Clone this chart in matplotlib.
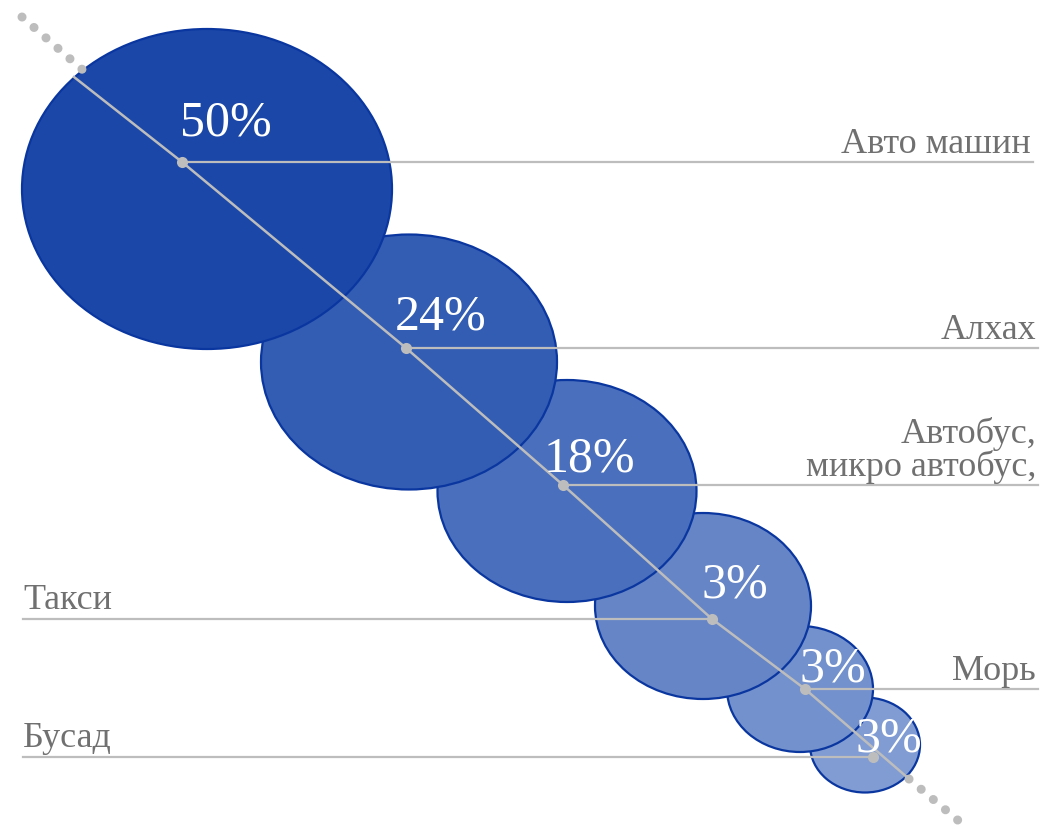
import matplotlib.pyplot as plt
from matplotlib.patches import Ellipse

# data
labels = ["Авто машин", "Алхах", "Автобус,\nмикро автобус,", "Такси", "Морь", "Бусад"]
values = [50, 24, 18, 3, 3, 3]

# layout (pixel space, y downwards)
centers = [(207, 189), (409, 362), (567, 491), (703, 606), (800, 689), (865, 745)]
sizes = [(370, 320), (296, 255), (259, 222), (216, 186), (146, 126), (110, 95)]
fills = ['#1b48a8', '#335db3', '#4a6fbc', '#6685c6', '#7391cc', '#809cd3']
anchors = [(182, 162), (406, 348), (563, 485), (712, 619), (805, 689), (873, 757)]
pct_pos = [(226, 123), (441, 317), (589, 459), (735, 585), (833, 669), (889, 739)]
sides = ['right', 'right', 'right', 'left', 'right', 'left']
line_end = [1033, 1038, 1038, 23, 1038, 23]

W, H = 1046, 830
fig = plt.figure(figsize=(W / 100, H / 100), dpi=100)
ax = fig.add_axes([0, 0, 1, 1])
ax.set_xlim(0, W)
ax.set_ylim(H, 0)
ax.axis('off')

serif = ['Liberation Serif', 'DejaVu Serif']
grey = '#bdbdbd'

n = len(values)
for i in range(n):
    e = Ellipse(centers[i], sizes[i][0], sizes[i][1], facecolor=fills[i],
                edgecolor='#0a36a0', linewidth=1.6, zorder=10 - i)
    ax.add_patch(e)

# trend line through the anchors, dotted at both ends
path = [(74, 77)] + anchors[:5] + [(908, 778)]
ax.plot([p[0] for p in path], [p[1] for p in path], color=grey, lw=1.8, zorder=20)
ax.plot([22, 84], [17, 71], color=grey, lw=6.5, ls=(0, (0.01, 1.75)),
        dash_capstyle='round', zorder=20)
ax.plot([909, 960], [779, 822], color=grey, lw=6.5, ls=(0, (0.01, 1.75)),
        dash_capstyle='round', zorder=20)

for i in range(n):
    x0, y0 = anchors[i]
    ax.plot([x0, line_end[i]], [y0, y0], color=grey, lw=1.6, zorder=21)
    ax.plot(x0, y0, 'o', color=grey, ms=8, mec='none', zorder=22)
    ax.text(pct_pos[i][0], pct_pos[i][1], f"{values[i]}%", color='white',
            fontsize=36, family=serif, ha='center', va='center', zorder=23)
    if sides[i] == 'right':
        ax.text(line_end[i] - 2, y0 - 1, labels[i], color='#707070', fontsize=26,
                family=serif, ha='right', va='bottom', linespacing=0.95, zorder=23)
    else:
        ax.text(line_end[i], y0 - 2, labels[i], color='#707070', fontsize=26,
                family=serif, ha='left', va='bottom', zorder=23)

fig.savefig('out.png', dpi=100)
